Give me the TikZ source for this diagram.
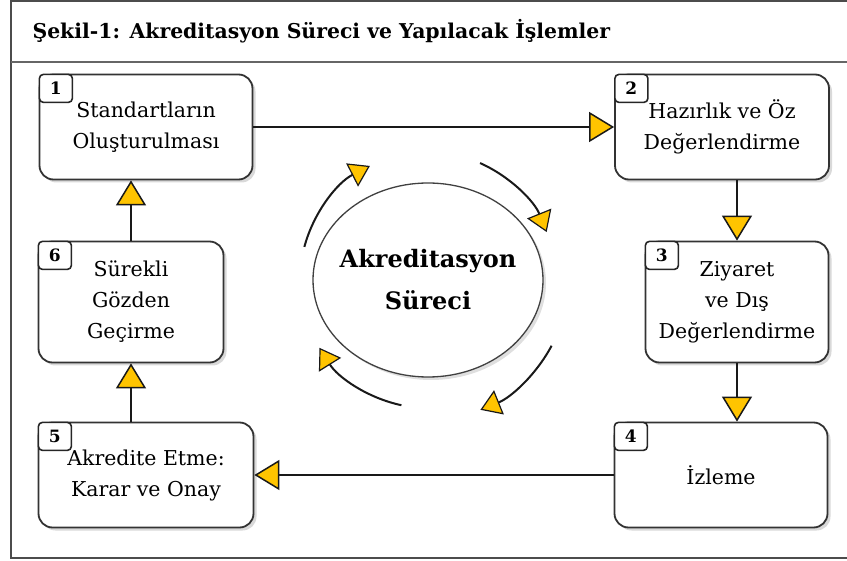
\documentclass[tikz,border=0pt]{standalone}
\usepackage{fontspec}
\setmainfont{DejaVu Serif}
\usetikzlibrary{shapes.geometric,shadows,arrows.meta}

\definecolor{arrowgold}{RGB}{255,196,0}

\tikzset{
    stagebox/.style={draw=black!80, line width=1.8pt, rounded corners=14pt, fill=white,
        drop shadow={shadow xshift=3pt, shadow yshift=-3pt, opacity=0.3},
        align=center, inner sep=0pt, font=\fontsize{20.5}{31}\selectfont},
    tagbox/.style={draw=black!85, line width=1.6pt, rounded corners=4pt, fill=white,
        anchor=north west, minimum width=33pt, minimum height=28pt, inner sep=0pt,
        font=\bfseries\fontsize{17}{17}\selectfont},
    flow/.style={line width=2.5pt, draw=black!90,
        -{Triangle[length=25pt, width=30pt, fill=arrowgold, line width=1.5pt]}},
    cyc/.style={line width=2pt, draw=black!90,
        -{Triangle[length=20pt, width=26pt, fill=arrowgold, line width=1.2pt]}}
}

\begin{document}
\begin{tikzpicture}[x=1pt, y=-1pt]
    \useasboundingbox (0,0) rectangle (847,561);

    % Frame and title
    \draw[line width=1.2pt, black!70] (870,1) -- (11,1) -- (11,558) -- (870,558);
    \draw[line width=2.6pt, black!60] (11,62) -- (870,62);
    \node[anchor=base west, font=\bfseries\fontsize{20.4}{24}\selectfont] (title) at (29,39)
        {Şekil-1: Akreditasyon Süreci ve Yapılacak İşlemler};

    % Process steps
    \node[stagebox, minimum width=213pt, minimum height=105pt] (b1) at (146,127)
        {Standartların\\Oluşturulması};
    \node[stagebox, minimum width=214pt, minimum height=105pt] (b2) at (722,127)
        {Hazırlık ve Öz\\Değerlendirme};
    \node[stagebox, minimum width=183pt, minimum height=121pt] (b3) at (737,302)
        {Ziyaret\\ve Dış\\Değerlendirme};
    \node[stagebox, minimum width=213pt, minimum height=105pt] (b4) at (721,475)
        {İzleme};
    \node[stagebox, minimum width=215pt, minimum height=105pt] (b5) at (146,475)
        {Akredite Etme:\\Karar ve Onay};
    \node[stagebox, minimum width=185pt, minimum height=121pt] (b6) at (131,302)
        {Sürekli\\Gözden\\Geçirme};

    % Step numbers
    \foreach \i in {1,...,6}
        \node[tagbox] (t\i) at (b\i.north west) {\i};

    % Connectors
    \draw[flow] (b1.east) -- (b2.west);
    \draw[flow] (b3.north |- b2.south) -- (b3.north);
    \draw[flow] (b3.south) -- (b3.south |- b4.north);
    \draw[flow] (b4.west) -- (b5.east |- b4.west);
    \draw[flow] (b6.south |- b5.north) -- (b6.south);
    \draw[flow] (b6.north) -- (b6.north |- b1.south);

    % Centre of the cycle
    \node[ellipse, draw=black!75, line width=1.3pt, fill=white,
        inner xsep=-11pt, inner ysep=0pt,
        minimum width=230pt, minimum height=194pt,
        drop shadow={shadow xshift=3pt, shadow yshift=-3pt, opacity=0.25},
        align=center, font=\bfseries\fontsize{24}{42}\selectfont] (proc) at (428,280)
        {Akreditasyon\\Süreci};

    % Cycle arrows
    \draw[cyc] (proc.center) ++(-165:128) arc[start angle=-165, end angle=-117, radius=128];
    \draw[cyc] (proc.center) ++(-66:128) arc[start angle=-66, end angle=-22, radius=128];
    \draw[cyc] (proc.center) ++(28:140) arc[start angle=28, end angle=68, radius=140];
    \draw[cyc] (proc.center) ++(102:128) arc[start angle=102, end angle=148, radius=128];
\end{tikzpicture}
\end{document}
